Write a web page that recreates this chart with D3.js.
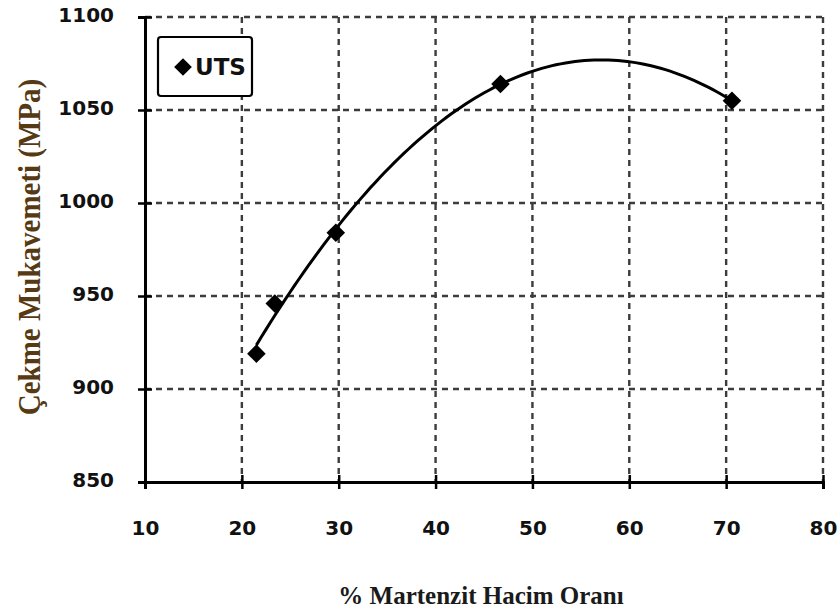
<!DOCTYPE html>
<html>
<head>
<meta charset="utf-8">
<script src="https://cdn.jsdelivr.net/npm/d3@7"></script>
<style>
  html, body { margin: 0; padding: 0; background: #fff; }
  svg { display: block; }
</style>
</head>
<body>
<svg id="chart" width="838" height="614"></svg>
<script>
// Martensite volume fraction (%) and ultimate tensile strength (MPa)
const martensite = [21.5, 23.4, 29.7, 46.7, 70.6];
const uts = [919, 946, 984, 1064, 1055];
const xTicks = [10, 20, 30, 40, 50, 60, 70, 80];
const yTicks = [850, 900, 950, 1000, 1050, 1100];
const seriesName = "UTS";
const xTitle = "% Martenzit Hacim Oranı";
const yTitle = "Çekme Mukavemeti (MPa)";

const svg = d3.select("#chart");
const plotL = 145, plotR = 823, plotT = 17, plotB = 482;
const labelFont = "'DejaVu Sans', 'Open Sans', sans-serif";
const titleFont = "'Liberation Serif', 'DejaVu Serif', serif";

const x = d3.scaleLinear().domain([10, 80]).range([plotL, plotR]);
const y = d3.scaleLinear().domain([850, 1100]).range([plotB, plotT]);

// Dashed grid
const grid = svg.append("g").attr("stroke", "#3c3c3c").attr("stroke-width", 2.4)
  .attr("stroke-dasharray", "6,5");
grid.selectAll("line.v").data(xTicks.slice(1)).join("line").attr("class", "v")
  .attr("x1", d => x(d)).attr("x2", d => x(d)).attr("y1", plotT).attr("y2", plotB);
grid.selectAll("line.h").data(yTicks.slice(1)).join("line").attr("class", "h")
  .attr("x1", plotL).attr("x2", plotR).attr("y1", d => y(d)).attr("y2", d => y(d));

// Axes with ticks crossing the axis line
const xAxis = d3.axisBottom(x).tickValues(xTicks).tickSize(7).tickFormat(d3.format("d"));
const yAxis = d3.axisLeft(y).tickValues(yTicks).tickSize(7).tickFormat(d3.format("d"));

const gx = svg.append("g").attr("transform", `translate(0,${plotB})`).call(xAxis);
const gy = svg.append("g").attr("transform", `translate(${plotL},0)`).call(yAxis);

[gx, gy].forEach(g => {
  g.select(".domain").attr("stroke", "#000").attr("stroke-width", 3);
  g.selectAll(".tick line").attr("stroke", "#000").attr("stroke-width", 2.5);
  g.selectAll(".tick text")
    .attr("fill", "#111")
    .style("font-family", labelFont)
    .style("font-weight", "700")
    .style("font-size", "20px");
});
gx.selectAll(".tick line").attr("y1", -7).attr("y2", 7);
gx.selectAll(".tick text").attr("y", 39);
gy.selectAll(".tick line").attr("x1", 7).attr("x2", -7);
gy.selectAll(".tick text").attr("x", -31).attr("dy", "0.2em");

// Quadratic least-squares trendline through the measurements
function quadFit(xs, ys) {
  const n = xs.length;
  const s = [0, 0, 0, 0, 0], t = [0, 0, 0];
  for (let i = 0; i < n; i++) {
    const xi = xs[i], yi = ys[i];
    for (let k = 0; k <= 4; k++) s[k] += Math.pow(xi, k);
    for (let k = 0; k <= 2; k++) t[k] += yi * Math.pow(xi, k);
  }
  const A = [[s[0], s[1], s[2], t[0]], [s[1], s[2], s[3], t[1]], [s[2], s[3], s[4], t[2]]];
  for (let i = 0; i < 3; i++) {
    for (let j = i + 1; j < 3; j++) {
      const f = A[j][i] / A[i][i];
      for (let k = i; k < 4; k++) A[j][k] -= f * A[i][k];
    }
  }
  const c = [0, 0, 0];
  for (let i = 2; i >= 0; i--) {
    let v = A[i][3];
    for (let k = i + 1; k < 3; k++) v -= A[i][k] * c[k];
    c[i] = v / A[i][i];
  }
  return v => c[0] + c[1] * v + c[2] * v * v;
}
const fit = quadFit(martensite, uts);
const x0 = martensite[0], x1 = martensite[martensite.length - 1];
const samples = d3.range(0, 101).map(i => x0 + (x1 - x0) * i / 100);
svg.append("path")
  .datum(samples)
  .attr("fill", "none").attr("stroke", "#000").attr("stroke-width", 3)
  .attr("d", d3.line().x(d => x(d)).y(d => y(fit(d))));

// Diamond markers
const diamond = d3.symbol().type(d3.symbolDiamond2).size(220);
svg.append("g").selectAll("path").data(martensite.map((m, i) => [m, uts[i]])).join("path")
  .attr("d", diamond)
  .attr("transform", d => `translate(${x(d[0])},${y(d[1])})`)
  .attr("fill", "#000");

// Legend
const lg = svg.append("g");
lg.append("rect").attr("x", 158).attr("y", 37).attr("width", 94).attr("height", 59)
  .attr("rx", 3).attr("fill", "#fff").attr("stroke", "#000").attr("stroke-width", 2.2);
lg.append("path").attr("d", d3.symbol().type(d3.symbolDiamond2).size(200))
  .attr("transform", "translate(183,67)").attr("fill", "#000");
lg.append("text").attr("x", 195).attr("y", 75)
  .style("font-family", labelFont)
  .style("font-weight", "700").style("font-size", "23px")
  .attr("fill", "#111").text(seriesName);

// Axis titles
svg.append("text")
  .attr("transform", "translate(40,247) scale(1.1,1) rotate(-90)")
  .attr("text-anchor", "middle")
  .style("font-family", titleFont)
  .style("font-weight", "700").style("font-size", "29px")
  .attr("fill", "#553a14").text(yTitle);
svg.append("text")
  .attr("x", 481).attr("y", 604)
  .attr("text-anchor", "middle")
  .style("font-family", titleFont)
  .style("font-weight", "700").style("font-size", "25px")
  .attr("fill", "#1a1a1a").text(xTitle);
</script>
</body>
</html>
